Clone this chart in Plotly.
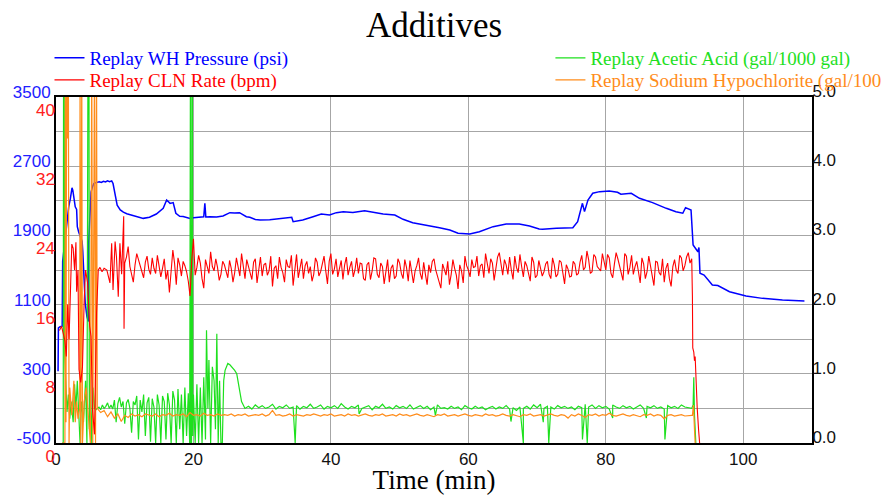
import plotly.graph_objects as go

# ---------------- data ----------------
# Replay WH Pressure (psi) -- left (blue) axis
wh_t = [0.30, 0.35, 0.6, 0.9, 0.97, 1.2, 1.5, 1.7, 1.85, 2.1, 2.33, 2.45, 2.57, 2.7, 2.8, 3.0,
        3.1, 3.3, 3.55, 3.8, 3.9, 4.05, 4.25, 4.5, 4.7, 4.75, 4.9, 5.1, 5.3, 5.5, 5.8, 6.0, 6.3,
        6.6, 6.9, 7.2, 7.5, 7.8, 8.1, 8.3, 8.6, 8.9, 9.35, 9.8, 10.3, 11.0, 11.7, 12.7, 13.6,
        14.6, 15.6, 16.1, 16.6, 17.05, 17.44, 18.0, 18.5, 19.0, 19.5, 20.0, 20.45, 20.9, 21.5,
        21.66, 21.8, 22.4, 23.36, 24.3, 25.3, 26.0, 26.7, 27.7, 28.2, 29.0, 29.7, 31.1, 32.6,
        34.3, 34.5, 35.9, 37.4, 38.6, 39.8, 40.8, 41.8, 43.2, 44.9, 46.1, 47.6, 49.3, 50.5,
        51.9, 53.9, 55.8, 57.3, 58.5, 60.2, 61.6, 63.6, 65.5, 67.4, 68.9, 70.3, 70.8, 72.8,
        75.2, 75.9, 76.4, 76.6, 76.9, 77.4, 78.1, 79.1, 80.5, 81.7, 82.2, 83.7, 84.9, 86.8,
        88.8, 90.2, 91.2, 91.6, 92.4, 92.5, 92.7, 93.4, 93.55, 93.7, 94.3, 95.5, 96.3, 98.0,
        100.4, 102.8, 105.7, 108.9]
wh_psi = [330, 830, 845, 850, 1600, 1780, 1950, 2150, 2230, 2330, 2450, 2420, 2370, 2300, 2230, 2200,
          2000, 1940, 1870, 1830, 1710, 1350, 1120, 960, 905, 1800, 2100, 2400, 2460, 2500, 2510, 2515, 2520,
          2512, 2525, 2518, 2530, 2522, 2530, 2500, 2370, 2250, 2195, 2168, 2150, 2136, 2116, 2097, 2110,
          2147, 2213, 2309, 2270, 2279, 2156, 2120, 2118, 2110, 2097, 2105, 2110, 2112, 2115,
          2271, 2112, 2115, 2112, 2125, 2163, 2160, 2163, 2116, 2109, 2085, 2078, 2082, 2097,
          2109, 2059, 2078, 2116, 2147, 2136, 2163, 2174, 2165, 2186, 2168, 2147, 2136, 2086,
          2047, 2020, 1989, 1962, 1924, 1916, 1943, 2001, 2032, 2032, 2009, 1974, 1970, 1982,
          1989, 2059, 2233, 2271, 2175, 2309, 2387, 2406, 2414, 2399, 2376, 2387, 2329, 2279,
          2213, 2174, 2156, 2221, 2194, 2020, 1789, 1711, 1760, 1462, 1442, 1326, 1320, 1249,
          1200, 1172, 1153, 1142]

# Replay CLN Rate (bpm) -- left (red) axis
cln_start_t = [0.5, 0.8, 1.1, 1.3, 1.5, 1.7, 1.9, 2.1, 2.3, 2.5, 2.7, 2.9, 3.0, 3.2, 3.35, 3.6,
               3.85, 4.1, 4.3, 4.6, 4.9, 5.1, 5.3, 5.6, 5.9, 6.15, 6.4, 6.7, 7.0, 7.4, 7.85, 8.1,
               8.3, 8.6, 8.8, 9.06, 9.3, 9.55, 9.85, 9.9]
cln_start = [13.0, 13.5, 12.5, 11.8, 10.0, 16.0, 12.0, 17.0, 23.0, 22.5, 20.0, 23.2, 17.5, 20.0, 8.5, 7.0,
             8.8, 16.5, 20.0, 18.5, 13.5, 12.3, 4.0, 1.0, 15.0, 20.0, 20.3, 19.8, 20.2, 20.0, 18.5, 23.1,
             17.7, 23.3, 21.5, 16.9, 23.1, 19.5, 26.2, 13.2]
# steady part: readings on the whole/half minute (10.0 ... 92.5)
cln_main_t0 = 10.0
cln_main_step = 0.5
cln_main = [20.8, 22.7, 19.3, 20.6, 21.2, 19.8, 20.9, 20.1, 21.4, 19.6,
            20.5, 20.2, 18.9, 17.4, 22.3, 18.3, 20.6, 21.0, 19.8, 17.0,
            23.6, 20.3, 20.8, 17.9, 20.4, 22.1, 19.9, 20.3, 19.5, 20.6,
            19.1, 20.2, 19.7, 20.5, 21.9, 19.0, 20.4, 18.9, 21.3, 20.0,
            19.3, 20.8, 19.9, 18.1, 20.5, 21.5, 19.7, 21.2, 20.3, 18.2,
            21.8, 20.2, 19.0, 21.0, 20.4, 19.5, 20.9, 19.8, 21.6, 18.4,
            21.9, 20.1, 19.2, 21.1, 20.6, 19.4, 21.0, 20.0, 19.6, 20.7,
            18.8, 20.9, 19.9, 21.3, 19.1, 20.4, 19.7, 18.6, 20.6, 19.3,
            20.8, 19.0, 20.3, 21.1, 18.5, 20.5, 19.6, 20.9, 18.3, 19.7,
            21.3, 19.2, 17.9, 20.1, 21.0, 19.5, 20.2, 17.8, 19.9, 21.6,
            20.0, 21.2, 20.4, 19.3, 20.7, 21.9, 19.6, 20.8, 20.1, 22.0,
            19.4, 20.6, 21.5, 18.9, 20.3, 21.8, 19.2, 20.5, 18.7, 20.9,
            19.4, 20.2, 19.8, 21.0, 19.0, 20.6, 19.5, 20.9, 18.4, 20.1,
            19.3, 20.7, 19.6, 21.7, 20.3, 21.2, 19.8, 21.5, 20.2, 21.9,
            20.0, 21.4, 19.1, 22.0, 20.5, 18.8, 21.6, 20.3, 19.5, 21.0,
            18.5, 20.7, 19.8, 20.4, 18.2, 20.9, 19.4, 18.6, 20.8, 18.1,
            21.2, 19.6, 21.4, 20.5, 22.0, 21.3]
# steady part: readings a quarter minute later (10.25 ... 92.25)
cln_mid = [21.5, 20.4, 18.6, 21.9, 20.3, 19.1, 21.6, 19.5, 20.2, 21.7,
           19.2, 21.3, 20.0, 19.6, 20.8, 21.4, 19.3, 20.5, 18.7, 21.1,
           19.4, 21.7, 19.0, 21.2, 19.6, 20.4, 21.3, 18.8, 21.0, 19.8,
           21.1, 18.6, 21.4, 19.3, 20.1, 21.2, 19.5, 20.9, 18.5, 21.5,
           20.6, 19.4, 21.6, 20.2, 19.0, 20.3, 18.6, 20.4, 21.7, 20.5,
           19.1, 21.3, 20.5, 19.6, 18.7, 21.4, 19.3, 20.6, 19.9, 21.0,
           19.5, 21.3, 20.2, 18.9, 21.5, 20.3, 19.2, 21.4, 20.8, 19.0,
           20.6, 18.9, 21.4, 19.5, 20.8, 18.4, 21.2, 20.2, 19.0, 21.3,
           19.6, 21.2, 18.7, 20.0, 19.9, 21.4, 18.9, 19.5, 20.6, 21.0,
           20.0, 18.6, 20.7, 19.4, 18.3, 21.2, 19.4, 20.6, 18.5, 20.5,
           19.2, 20.3, 21.6, 20.5, 19.1, 20.6, 21.3, 18.8, 21.5, 20.7,
           21.2, 19.5, 20.0, 21.6, 19.7, 20.4, 21.0, 19.6, 21.5, 19.1,
           21.1, 19.3, 20.7, 19.5, 21.4, 19.2, 21.1, 19.8, 20.6, 19.2,
           21.0, 19.4, 20.9, 20.0, 22.2, 19.6, 21.8, 20.4, 19.9, 20.8,
           21.8, 19.6, 20.7, 21.3, 19.4, 21.9, 19.5, 21.7, 20.4, 19.8,
           21.4, 19.0, 21.6, 19.5, 21.0, 19.7, 21.3, 20.2, 19.0, 20.4,
           20.0, 21.7, 19.9, 21.5, 20.8]
cln_end_t = [92.6, 92.65, 92.8, 92.9, 93.0, 93.1, 93.3, 93.5, 93.65]
cln_end = [17.0, 11.0, 10.5, 9.5, 10.0, 7.5, 4.0, 1.5, 0.0]

# Replay Acetic Acid (gal/1000 gal) -- right axis
acid_start_t = [0.9, 1.05, 1.1, 1.2, 1.25, 1.4, 1.6, 1.8, 2.0, 2.2, 2.5, 2.7, 2.9, 3.1, 3.3, 3.5,
                3.7, 4.0, 4.3, 4.5, 4.65, 4.8, 4.85, 5.0, 5.2, 5.4, 5.6, 5.8,
                6.0, 6.25, 6.5, 6.75, 7.0, 7.25, 7.5, 7.75, 8.0, 8.25, 8.5, 8.75, 9.0, 9.25,
                9.5, 9.75, 10.0, 10.25, 10.5, 10.75, 11.0, 11.25, 11.5, 11.75, 12.0, 12.25,
                12.5, 12.75, 13.0, 13.25, 13.5, 13.75, 14.0, 14.25, 14.5, 14.75, 15.0, 15.25,
                15.5, 15.75, 16.0, 16.25, 16.5, 16.75, 17.0, 17.25, 17.5, 17.75, 18.0, 18.25,
                18.5, 18.75, 19.0, 19.25, 19.45, 19.5, 19.56, 19.6, 19.72, 19.78, 19.84, 19.9,
                20.0, 20.25, 20.5, 20.75,
                21.0, 21.25, 21.5, 21.75, 21.9, 22.1, 22.25, 22.5, 22.75, 23.0, 23.2, 23.4,
                23.6, 23.8, 24.0, 24.2, 24.4, 24.6, 24.8, 25.0, 25.3, 25.6, 26.0, 26.3, 26.6,
                27.0]
acid_start = [0.0, 0.0, 5.5, 5.5, 1.3, 0.9, 0.45, 0.7, 0.35, 0.6, 0.3, 0.85, 0.5, 0.9, 0.4, 0.0,
              0.6, 0.3, 0.9, 0.0, 5.5, 5.5, 0.2, 1.0, 0.0, 0.8, 0.5, 0.48,
              0.50, 0.52, 0.48, 0.55, 0.50, 0.53, 0.58, 0.50, 0.55, 0.49, 0.62, 0.30, 0.57, 0.66,
              0.52, 0.60, 0.28, 0.58, 0.63, 0.50, 0.15, 0.60, 0.55, 0.68, 0.05, 0.62,
              0.45, 0.70, 0.10, 0.58, 0.66, 0.02, 0.64, 0.52, 0.0, 0.70, 0.55, 0.0,
              0.68, 0.60, 0.05, 0.72, 0.55, 0.0, 0.75, 0.62, 0.0, 0.78, 0.20, 0.70,
              0.0, 0.80, 0.10, 0.72, 0.0, 5.5, 5.5, 0.0, 0.0, 5.5, 5.5, 0.1,
              0.70, 0.0, 0.85, 0.0,
              0.80, 0.0, 0.95, 0.05, 1.63, 0.5, 1.2, 0.0, 1.1, 0.9, 0.2, 1.58,
              0.0, 0.9, 0.0, 0.0, 0.9, 1.05, 1.10, 1.15, 1.13, 1.10, 1.05, 1.00, 0.80,
              0.60]
acid_main_t0 = 27.5
acid_main_step = 0.5
acid_main = [0.50, 0.53, 0.49, 0.55, 0.51, 0.54, 0.50, 0.52, 0.56, 0.49,
             0.53, 0.51, 0.55, 0.50, 0.52, 0.54, 0.49, 0.53, 0.51, 0.56,
             0.50, 0.52, 0.55, 0.49, 0.53, 0.51, 0.54, 0.50, 0.57, 0.52,
             0.49, 0.53, 0.51, 0.55, 0.50, 0.52, 0.54, 0.48, 0.53, 0.51,
             0.56, 0.50, 0.52, 0.49, 0.54, 0.51, 0.53, 0.50, 0.55, 0.49,
             0.52, 0.54, 0.50, 0.53, 0.48, 0.52, 0.55, 0.50, 0.51, 0.49,
             0.53, 0.50, 0.52, 0.48, 0.54, 0.51, 0.49, 0.53, 0.50, 0.52,
             0.48, 0.51, 0.53, 0.49, 0.52, 0.50, 0.54, 0.49, 0.51, 0.47,
             0.52, 0.50, 0.53, 0.49, 0.55, 0.51, 0.56, 0.50, 0.53, 0.52,
             0.49, 0.54, 0.51, 0.53, 0.50, 0.52, 0.48, 0.53, 0.51, 0.56,
             0.52, 0.55, 0.50, 0.54, 0.51, 0.53, 0.49, 0.55, 0.52, 0.50,
             0.54, 0.51, 0.53, 0.49, 0.52, 0.55, 0.50, 0.53, 0.51, 0.54,
             0.50, 0.52, 0.49, 0.54, 0.51, 0.53, 0.50, 0.55, 0.52, 0.51,
             0.50]
acid_dip_t = [34.8, 44.1, 55.2, 66.2, 68.0, 70.9, 71.7, 76.6, 77.3, 81.0, 85.9, 88.6]
acid_dip = [0.0, 0.42, 0.40, 0.31, 0.0, 0.30, 0.0, 0.05, 0.0, 0.36, 0.36, 0.05]
acid_end_t = [92.7, 92.8, 92.9, 93.0, 93.1]
acid_end = [0.55, 0.95, 0.4, 0.1, 0.0]

# Replay Sodium Hypochlorite (gal/1000 gal) -- right axis
hypo_start_t = [0.9, 1.3, 1.35, 1.45, 1.55, 1.7, 1.8, 1.9, 2.0, 2.3, 2.6, 2.8, 3.0, 3.2, 3.45, 3.5,
                3.6, 3.75, 3.85, 4.1, 4.4, 4.7, 5.0, 5.2, 5.35, 5.5, 5.6, 5.75, 5.9]
hypo_start = [0.0, 0.0, 5.5, 0.3, 5.5, 4.4, 5.5, 0.0, 0.8, 0.4, 0.9, 0.3, 0.6, 0.35, 0.5, 5.5,
              0.0, 5.5, 0.0, 0.6, 0.8, 0.4, 0.0, 5.5, 0.0, 3.2, 5.5, 0.0, 5.5]
hypo_main_t0 = 6.0
hypo_main_step = 0.5
hypo_main = [0.50, 0.44, 0.47, 0.38, 0.45, 0.36, 0.42, 0.31, 0.40, 0.37,
             0.42, 0.39, 0.41, 0.38, 0.42, 0.40, 0.39, 0.42, 0.38, 0.41,
             0.40, 0.43, 0.39, 0.41, 0.40, 0.42, 0.38, 0.44, 0.40, 0.41,
             0.39, 0.43, 0.40, 0.41, 0.39, 0.42, 0.40, 0.41, 0.40, 0.42,
             0.39, 0.41, 0.40, 0.42, 0.39, 0.40, 0.41, 0.40, 0.42, 0.39,
             0.41, 0.47, 0.40, 0.41, 0.39, 0.40, 0.42, 0.39, 0.41, 0.40,
             0.39, 0.41, 0.40, 0.42, 0.40, 0.39, 0.41, 0.40, 0.42, 0.39,
             0.40, 0.41, 0.39, 0.42, 0.40, 0.41, 0.39, 0.40, 0.42, 0.40,
             0.39, 0.41, 0.40, 0.42, 0.39, 0.40, 0.41, 0.39, 0.42, 0.40,
             0.41, 0.39, 0.40, 0.42, 0.40, 0.39, 0.41, 0.40, 0.38, 0.41,
             0.40, 0.42, 0.39, 0.40, 0.41, 0.39, 0.40, 0.42, 0.40, 0.39,
             0.41, 0.40, 0.39, 0.42, 0.40, 0.41, 0.39, 0.40, 0.42, 0.40,
             0.39, 0.41, 0.40, 0.38, 0.41, 0.40, 0.42, 0.39, 0.40, 0.41,
             0.39, 0.40, 0.42, 0.40, 0.39, 0.41, 0.40, 0.36, 0.41, 0.39,
             0.42, 0.40, 0.37, 0.41, 0.40, 0.42, 0.39, 0.41, 0.40, 0.43,
             0.40, 0.39, 0.41, 0.42, 0.40, 0.39, 0.41, 0.40, 0.38, 0.41,
             0.40, 0.42, 0.39, 0.41, 0.40, 0.35, 0.40, 0.41, 0.39, 0.40,
             0.41, 0.39, 0.40, 0.40]
hypo_end_t = [92.6, 92.75, 92.9, 93.0]
hypo_end = [0.40, 0.55, 0.2, 0.0]

# axis ticks
x_ticks = [0, 20, 40, 60, 80, 100]
psi_ticks = [-500, 300, 1100, 1900, 2700, 3500]
psi_labels = ["-500", "300", "1100", "1900", "2700", "3500"]
bpm_ticks = [0, 8, 16, 24, 32, 40]
gal_ticks = [0, 1, 2, 3, 4, 5]

# ---------------- assemble series ----------------
def regular(t0, step, vals):
    return [round(t0 + step * i, 3) for i in range(len(vals))]

cln_steady_t, cln_steady = [], []
for i, v in enumerate(cln_main):
    cln_steady_t.append(round(cln_main_t0 + cln_main_step * i, 3))
    cln_steady.append(v)
    if i < len(cln_mid):
        cln_steady_t.append(round(cln_main_t0 + cln_main_step * i + cln_main_step / 2, 3))
        cln_steady.append(cln_mid[i])
cln_t = cln_start_t + cln_steady_t + cln_end_t
cln_v = cln_start + cln_steady + cln_end

acid_pairs = sorted(zip(regular(acid_main_t0, acid_main_step, acid_main) + acid_dip_t,
                        acid_main + acid_dip))
acid_t = acid_start_t + [p[0] for p in acid_pairs] + acid_end_t
acid_v = acid_start + [p[1] for p in acid_pairs] + acid_end

hypo_t = hypo_start_t + regular(hypo_main_t0, hypo_main_step, hypo_main) + hypo_end_t
hypo_v = hypo_start + hypo_main + hypo_end

BLUE, RED, GREEN, ORANGE = "#0000ff", "#ff0000", "#1ee01e", "#ff8c1a"
SERIF = "Liberation Serif, Times New Roman, serif"
SANS = "Liberation Sans, Arial, sans-serif"

def lbl(text, color):
    return f'<span style="color:{color}">{text}</span>'

fig = go.Figure()
fig.add_trace(go.Scatter(x=wh_t, y=wh_psi, mode="lines", yaxis="y",
                         line=dict(color=BLUE, width=1.5),
                         name=lbl("Replay WH Pressure (psi)", BLUE), legend="legend"))
fig.add_trace(go.Scatter(x=acid_t, y=acid_v, mode="lines", yaxis="y2",
                         line=dict(color=GREEN, width=1.2),
                         name=lbl("Replay Acetic Acid (gal/1000 gal)", GREEN), legend="legend2"))
fig.add_trace(go.Scatter(x=hypo_t, y=hypo_v, mode="lines", yaxis="y2",
                         line=dict(color=ORANGE, width=1.2),
                         name=lbl("Replay Sodium Hypochlorite (gal/1000 gal)", ORANGE), legend="legend4"))
fig.add_trace(go.Scatter(x=cln_t, y=cln_v, mode="lines", yaxis="y3",
                         line=dict(color=RED, width=1.1),
                         name=lbl("Replay CLN Rate (bpm)", RED), legend="legend3"))

GRID = "#a6a6a6"

def leg(x, y):
    return dict(x=x, y=y, xanchor="left", yanchor="middle", orientation="v",
                font=dict(family=SERIF, size=19), bgcolor="rgba(0,0,0,0)",
                tracegroupgap=0, itemwidth=30)

fig.update_layout(
    width=881, height=487,
    paper_bgcolor="white", plot_bgcolor="white",
    margin=dict(l=48, r=77, t=89, b=52, autoexpand=False),
    title=dict(text="Additives", x=0.5, xref="paper", y=0.966, yref="container",
               yanchor="middle", font=dict(family=SERIF, size=35, color="black")),
    showlegend=True,
    legend=leg(-0.0086, 1.1127),
    legend3=leg(-0.0086, 1.049),
    legend2=leg(0.654, 1.1127),
    legend4=leg(0.654, 1.049),
    xaxis=dict(range=[0, 110], tickvals=x_ticks, showgrid=True, gridcolor=GRID, gridwidth=1,
               zeroline=False, showline=True, linecolor="black", linewidth=2, mirror=True,
               ticks="", tickfont=dict(family=SANS, size=17, color="#111111"),
               title=dict(text="Time (min)", font=dict(family=SERIF, size=27, color="black"),
                          standoff=4)),
    yaxis=dict(range=[-500, 3500], tickvals=psi_ticks, ticktext=psi_labels, showgrid=False,
               zeroline=False, showline=True, linecolor="black", linewidth=2, ticks="",
               tickfont=dict(family=SANS, size=17, color="#2020ff"), ticklabelshift=-5),
    yaxis3=dict(range=[0, 40], tickvals=bpm_ticks, overlaying="y", side="left", anchor="x",
                showgrid=False, zeroline=False, showline=False, ticks="",
                tickfont=dict(family=SANS, size=17, color="#ff2020"), ticklabelshift=13),
    yaxis2=dict(range=[0, 5], tickvals=gal_ticks, tickformat=".1f", overlaying="y", side="right",
                anchor="x", showgrid=True, gridcolor=GRID, gridwidth=1, zeroline=False,
                showline=True, linecolor="black", linewidth=2, ticks="",
                minor=dict(dtick=0.5, showgrid=True, gridcolor=GRID, gridwidth=1),
                tickfont=dict(family=SANS, size=17, color="#111111"), ticklabelshift=-6,
                ticklabelstandoff=-5),
)

fig.write_html("out.html")
